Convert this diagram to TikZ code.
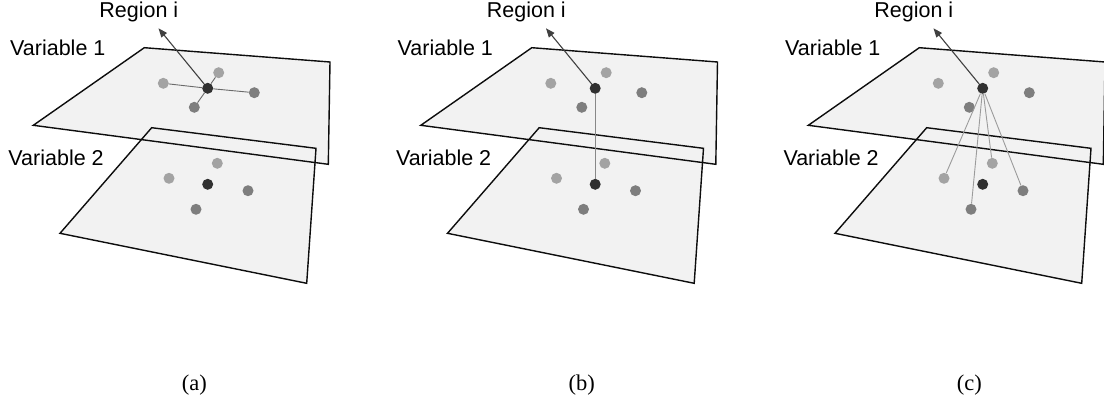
\documentclass[tikz,border=0pt]{standalone}
\usepackage{fontspec}
\setmainfont{Liberation Serif}
\newfontfamily\labfont{Liberation Sans}
\usetikzlibrary{arrows.meta}
\definecolor{planegray}{HTML}{F2F2F2}
\definecolor{dotlight}{HTML}{A3A3A3}
\definecolor{dotmid}{HTML}{7E7E7E}
\definecolor{dotdark}{HTML}{313131}
\definecolor{conngray}{HTML}{6A6A6A}
\definecolor{arrowgray}{HTML}{404040}
\begin{document}
\begin{tikzpicture}[x=1pt,y=-1pt,
  planefill/.style={fill=planegray,draw=none},
  planeedge/.style={draw=black!95,line width=1.4pt,line join=miter},
  dot/.style={circle,inner sep=0pt,minimum size=11pt,draw=none},
  light/.style={dot,fill=dotlight},
  mid/.style={dot,fill=dotmid},
  dark/.style={dot,fill=dotdark},
  conn/.style={draw=conngray,line width=0.9pt},
  connc/.style={draw=dotlight!95!black,line width=0.9pt},
  regarrow/.style={draw=arrowgray,line width=1.1pt,-{Triangle[length=9pt,width=7pt]}},
  lab/.style={font=\labfont\fontsize{21.5}{24}\selectfont,inner sep=0pt},
  captext/.style={font=\fontsize{22.5}{26}\selectfont,inner sep=0pt}]
\useasboundingbox (0,0) rectangle (1104,402);
\foreach \p/\ox in {a/0,b/387.5,c/775}{
\begin{scope}[xshift=\ox pt]
  \coordinate (\p-u1) at (144.3,47.7);
  \coordinate (\p-u2) at (330,62);
  \coordinate (\p-u3) at (328.3,164.3);
  \coordinate (\p-u4) at (33.3,125.3);
  \coordinate (\p-l1) at (151.7,127.7);
  \coordinate (\p-l2) at (316,148.3);
  \coordinate (\p-l3) at (306.7,283.3);
  \coordinate (\p-l4) at (60,233.3);
  \path[planefill] (\p-u1) -- (\p-u2) -- (\p-u3) -- (\p-u4) -- cycle;
  \path[planefill] (\p-l1) -- (\p-l2) -- (\p-l3) -- (\p-l4) -- cycle;
  \draw[planeedge] (\p-u1) -- (\p-u2) -- (\p-u3) -- (\p-u4) -- cycle;
  \draw[planeedge] (\p-l1) -- (\p-l2) -- (\p-l3) -- (\p-l4) -- cycle;
  % upper dots
  \node[dark]  (\p-uc) at (207.7,88.3) {};
  \node[light] (\p-ut) at (218.7,72.7) {};
  \node[light] (\p-ul) at (163.3,83.3) {};
  \node[mid]   (\p-ur) at (254.3,92.7) {};
  \node[mid]   (\p-ub) at (194.3,107.3) {};
  % lower dots
  \node[dark]  (\p-lc) at (207.7,184.3) {};
  \node[light] (\p-lt) at (217.3,163.3) {};
  \node[light] (\p-ll) at (169,178.3) {};
  \node[mid]   (\p-lr) at (248,190.7) {};
  \node[mid]   (\p-lb) at (196,209.3) {};
  % labels
  \coordinate (\p-tip) at (158.5,28.3);
  \draw[regarrow] (\p-uc) -- (\p-tip);
  \node[lab,anchor=base] (\p-reg) at (138.8,17) {Region i};
  \node[lab,anchor=base west] (\p-v1) at (10,55.5) {Variable 1};
  \node[lab,anchor=base west] (\p-v2) at (8.3,165) {Variable 2};
  \node[captext,anchor=base] (\p-cap) at (194.3,390) {(\p)};
\end{scope}
}
% connectors
\foreach \n in {ut,ul,ur,ub}{\draw[conn] (a-uc) -- (a-\n);}
\draw[conn,draw=conngray!80] (b-uc) -- (b-lc);
\foreach \n in {lt,ll,lr,lb}{\draw[connc] (c-uc) -- (c-\n);}
\end{tikzpicture}
\end{document}
